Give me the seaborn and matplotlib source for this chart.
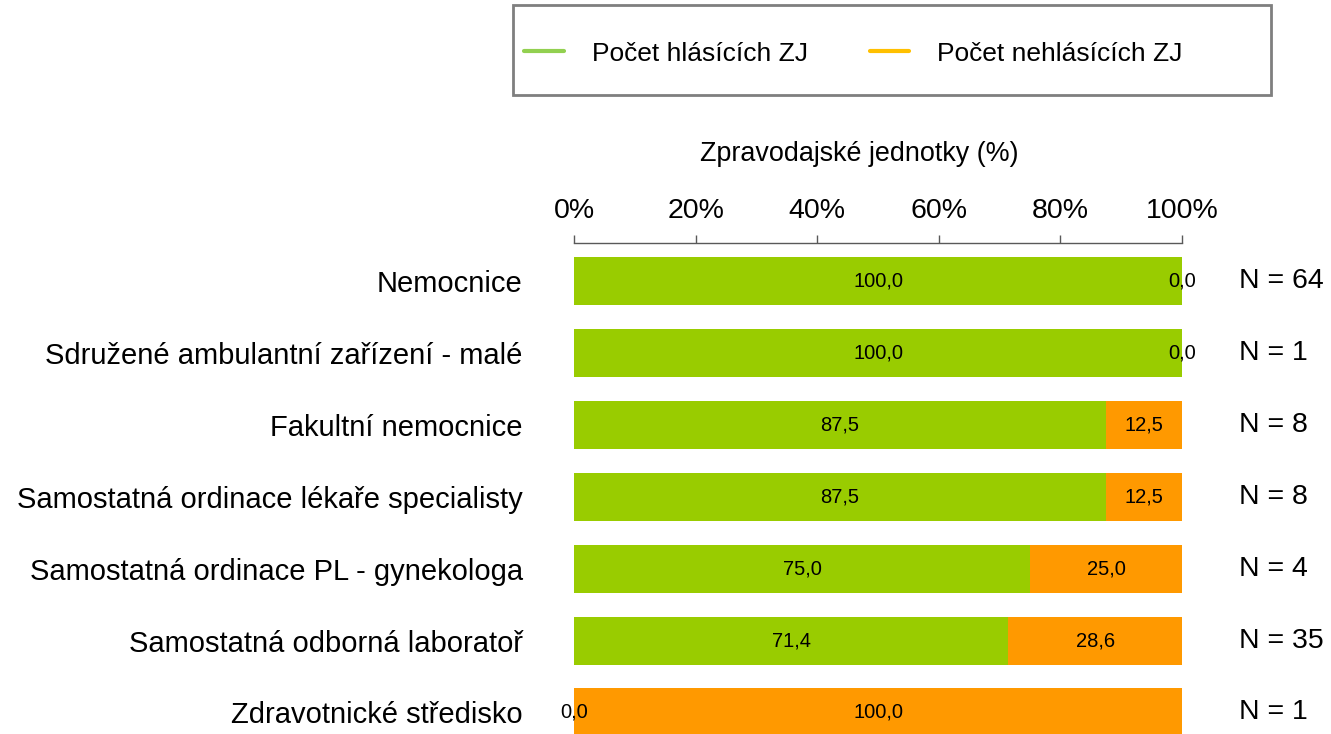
import pandas as pd
import matplotlib.pyplot as plt
import seaborn as sns
from matplotlib.lines import Line2D
from matplotlib.patches import Rectangle

# data
categories = ['Nemocnice', 'Sdružené ambulantní zařízení - malé', 'Fakultní nemocnice',
              'Samostatná ordinace lékaře specialisty', 'Samostatná ordinace PL - gynekologa',
              'Samostatná odborná laboratoř', 'Zdravotnické středisko']
reporting = [100.0, 100.0, 87.5, 87.5, 75.0, 71.4, 0.0]
non_reporting = [0.0, 0.0, 12.5, 12.5, 25.0, 28.6, 100.0]
n_units = [64, 1, 8, 8, 4, 35, 1]
x_ticks = [0, 20, 40, 60, 80, 100]

df = pd.DataFrame({'cat': categories, 'rep': reporting, 'nonrep': non_reporting, 'n': n_units})
df['total'] = df['rep'] + df['nonrep']

sns.set_style('white')
plt.rcParams['font.family'] = ['Liberation Sans', 'DejaVu Sans']
plt.rcParams['text.color'] = 'black'
plt.rcParams['xtick.color'] = 'black'
plt.rcParams['ytick.color'] = 'black'
plt.rcParams['axes.labelcolor'] = 'black'

GREEN = '#99CC00'
ORANGE = '#FF9900'

fig = plt.figure(figsize=(13.31, 7.34), dpi=100)
ax = fig.add_axes([0.4313, 0.0, 0.4568, 0.669])

# stacked bars: total (orange) underneath, reporting (green) on top
sns.barplot(data=df, x='total', y='cat', color=ORANGE, width=0.667, saturation=1,
            linewidth=0, ax=ax)
sns.barplot(data=df, x='rep', y='cat', color=GREEN, width=0.667, saturation=1,
            linewidth=0, ax=ax)

for i, row in df.iterrows():
    ax.text(row['rep'] / 2, i, f"{row['rep']:.1f}".replace('.', ','),
            ha='center', va='center', fontsize=14.5)
    ax.text(row['rep'] + row['nonrep'] / 2, i, f"{row['nonrep']:.1f}".replace('.', ','),
            ha='center', va='center', fontsize=14.5)
    ax.annotate(f"N = {row['n']}", xy=(1.094, i), xycoords=('axes fraction', 'data'),
                ha='left', va='center', fontsize=20.5)

ax.set_xlim(0, 100)
ax.set_ylim(6.3, -0.53)
ax.xaxis.tick_top()
ax.xaxis.set_label_position('top')
ax.set_xticks(x_ticks)
ax.set_xticklabels([f'{t}%' for t in x_ticks], fontsize=20.5)
ax.set_xlabel('Zpravodajské jednotky (%)', fontsize=19.4, labelpad=26)
ax.xaxis.label.set_x(0.4696)
ax.set_ylabel('')
ax.tick_params(axis='x', which='both', top=True, bottom=False, length=6, width=1,
               color='#595959', direction='out', pad=8)
ax.tick_params(axis='y', length=0, pad=37, labelsize=21)

for side in ['left', 'right', 'bottom']:
    ax.spines[side].set_visible(False)
ax.spines['top'].set_color('#595959')
ax.spines['top'].set_linewidth(1)

# legend with a plain grey box
fig.patches.append(Rectangle((0.3854, 0.8706), 0.5696, 0.1226, transform=fig.transFigure,
                             fill=False, edgecolor='#7f7f7f', linewidth=2))
handles = [Line2D([0], [0], color='#92D050', lw=3),
           Line2D([0], [0], color='#FFC000', lw=3)]
fig.legend(handles, ['Počet hlásících ZJ', 'Počet nehlásících ZJ'], loc='center',
           bbox_to_anchor=(0.6413, 0.927), ncol=2, frameon=False, fontsize=19,
           handlelength=1.5, handletextpad=1.06, columnspacing=2.35)

fig.savefig('out.png', dpi=100)
